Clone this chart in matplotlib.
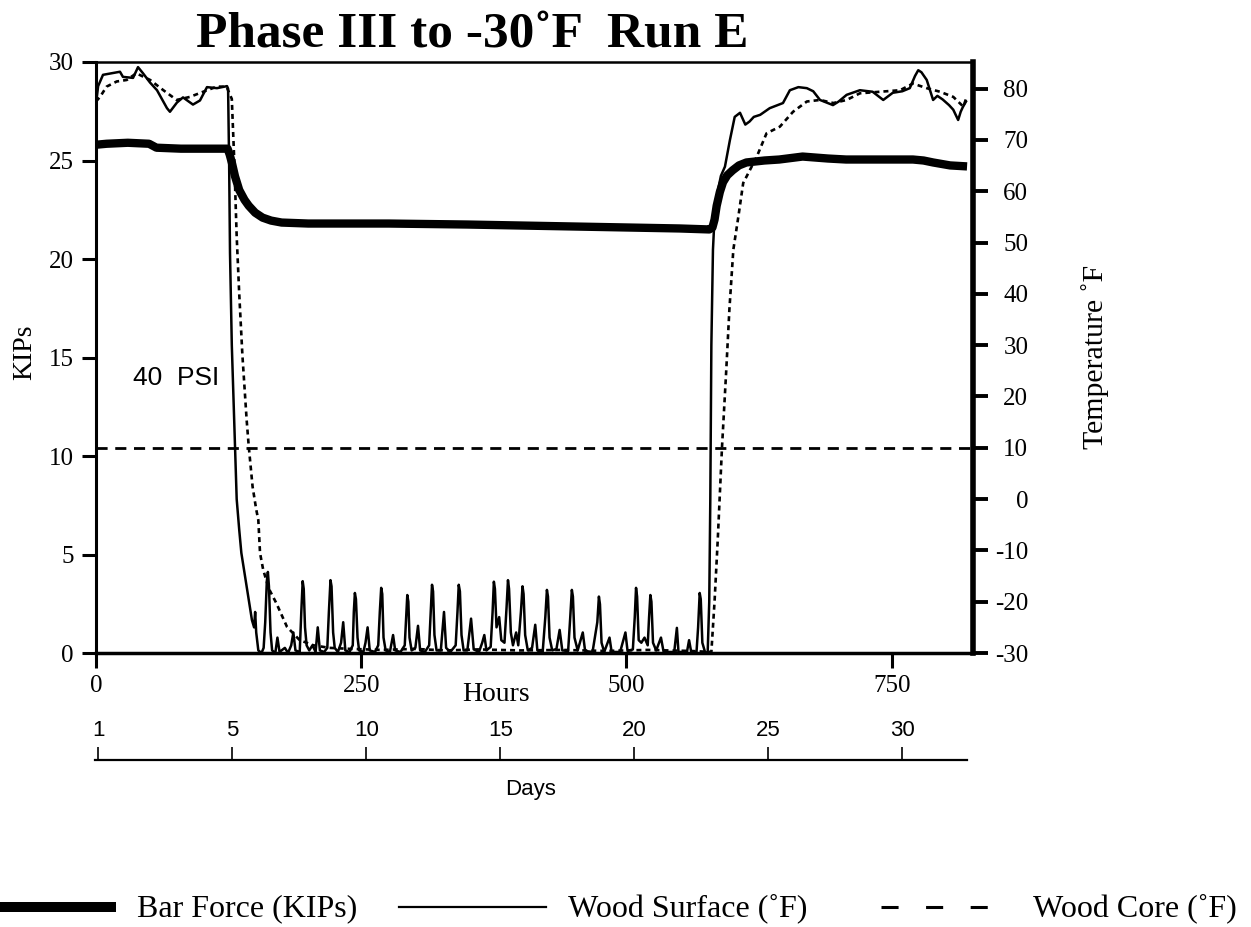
import matplotlib
matplotlib.use("Agg")
import matplotlib.pyplot as plt
from matplotlib.lines import Line2D

SERIF = ["Liberation Serif", "DejaVu Serif"]
SANS = ["Liberation Sans", "DejaVu Sans"]
plt.rcParams["font.family"] = SERIF
plt.rcParams["lines.scale_dashes"] = False

# ---------------- data ----------------
bar_hours = [0, 10, 30, 50, 57, 80, 124, 126, 128, 131, 135, 140, 144, 150, 157, 165, 175,
             200, 276, 350, 450, 500, 550, 578, 581, 583, 585, 588, 591, 595, 600, 606, 613,
             630, 644, 666, 690, 707, 770, 780, 789, 805, 821]
bar_kips = [25.8, 25.85, 25.9, 25.85, 25.65, 25.6, 25.6, 25.3, 24.9, 24.2, 23.5, 23.0, 22.7,
            22.35, 22.1, 21.95, 21.85, 21.8, 21.8, 21.75, 21.65, 21.6, 21.55, 21.5, 21.6, 22.0,
            22.7, 23.4, 23.9, 24.25, 24.5, 24.75, 24.9, 25.0, 25.05, 25.2, 25.1, 25.05, 25.05,
            25.0, 24.9, 24.75, 24.7]

surf_hours = [0, 2, 6.6, 22.6, 25.4, 34.9, 39.6, 44.3, 50.9, 57.5, 66.9, 69.7, 76.3, 82, 91.4,
              98, 104.6, 114, 123.5, 124.5, 125.5, 126.3, 128, 131, 132.6, 135, 137, 142, 145,
              147, 149, 150, 151, 153, 156, 158, 159.5, 161, 162, 163, 164.5, 166, 169, 171,
              173, 178, 181, 184, 186, 188, 192, 193.5, 194.8, 195.8, 197, 198.5, 201, 204,
              207, 209, 211, 215, 218, 219.5, 221, 222, 223.5, 225, 228, 231, 233, 235, 239,
              242, 243, 244, 245, 246.5, 248, 252, 254, 256, 258, 263, 266, 267.5, 268.8,
              269.8, 271, 273, 277, 280, 282, 287, 291, 292.3, 293.4, 294.4, 295.5, 297.5,
              301, 303.5, 305.5, 310, 314, 315.5, 316.7, 317.7, 319, 321, 325, 328, 330, 334,
              339, 340.7, 341.9, 343, 344.5, 346.5, 350, 353.5, 356, 361, 364, 366, 368, 372,
              373.8, 375, 376, 377.5, 380, 382, 385, 387, 388.3, 389.3, 391, 393, 396, 398,
              400.5, 402, 403, 404.5, 407, 411, 414, 416, 421, 423.5, 425, 426, 427.5, 430,
              434, 437, 439.5, 445, 447, 448.5, 449.5, 451, 454, 458.8, 461, 468, 472.5, 474,
              475, 476.5, 479, 484, 486, 494, 497, 499, 501, 506, 507.8, 509, 510, 511.5, 514,
              517, 520, 521.3, 522.5, 523.5, 525, 528, 532.5, 535, 545, 546.5, 547.5, 549,
              557, 559, 561, 566, 567.5, 569, 570, 571.5, 574, 576.5, 578, 579, 580, 581.5,
              583, 586, 589, 592.8, 597.5, 602, 607, 612, 616, 620, 626, 635, 647.5, 654, 662,
              670, 676, 682.4, 694.6, 700, 707.5, 720, 732, 742, 751, 760, 767, 772, 775, 778,
              783, 789, 793, 798, 804, 808, 812.6, 815, 817, 820]
surf_temp = [77, 80.5, 82.7, 83.3, 82.3, 82.1, 84.2, 83.0, 81.2, 79.7, 76.2, 75.5, 77.3, 78.3,
             76.9, 77.7, 80.3, 80.1, 80.5, 80, 65, 48, 30, 10, 0, -6, -10.5, -17, -21, -23.6,
             -25, -22, -26, -29.5, -30, -29, -24, -16, -14.2, -17, -26, -29.5, -30, -27,
             -29.8, -29, -30, -28.5, -26, -29.5, -29.8, -22, -16, -17.5, -25, -28.5, -29.5,
             -28.5, -29.8, -25, -29.5, -29.8, -29, -22, -15.8, -17, -26, -29, -29.8, -28, -24,
             -29.5, -29.8, -28.5, -22, -18.3, -19.5, -27, -29.5, -29.8, -28, -25, -29.5,
             -29.8, -28.5, -22, -17.3, -18.5, -27, -29.5, -29.8, -26.5, -29.5, -29.8, -28.5,
             -23, -18.7, -20, -27, -29.5, -29, -24.7, -29.5, -29.8, -28.5, -22, -16.7, -18,
             -26.5, -29.5, -29.5, -22, -29, -29.8, -28.5, -22, -16.7, -18, -26.5, -29.5,
             -29.5, -23.3, -29.3, -29.8, -28, -26.5, -29.5, -28.8, -22, -16.1, -17.5, -25,
             -23, -27.5, -28, -21, -15.8, -17.5, -26, -28.5, -26, -28.5, -22, -17, -18.5,
             -26.5, -29.5, -29, -24.5, -29.5, -29.8, -23, -17.7, -19, -27, -29.5, -29.2,
             -25.5, -29.5, -29.6, -23, -17.7, -19, -27, -29.5, -26, -29.6, -29.8, -24, -19,
             -20.5, -28, -29.8, -27, -29.8, -29.8, -27.5, -26, -29.6, -29.3, -23, -17.3, -19,
             -27.5, -28, -27, -28.5, -23, -18.7, -20, -28, -29.5, -27, -29.8, -29.8, -27,
             -25.1, -29.8, -29.8, -27.5, -29.8, -29.8, -25, -18.3, -19.5, -28, -29.8, -30,
             -20, 0, 30, 48.6, 55, 60, 63, 64.8, 70, 74.5, 75.3, 73, 73.6, 74.5, 74.9, 76.2,
             77.2, 79.7, 80.3, 80.1, 79.5, 77.8, 76.8, 77.5, 78.8, 79.7, 79.4, 77.8, 79.2,
             79.5, 80.1, 82.5, 83.6, 83.2, 81.7, 77.8, 78.6, 77.9, 76.8, 75.9, 73.9, 75.5,
             76.4, 77.5]

core_hours = [0, 3.8, 10, 19.5, 29, 38, 51, 63.5, 76, 88.6, 101, 113.8, 123, 128, 130.5, 131.5,
              132.6, 135, 138, 142, 144, 147.6, 151, 153, 154.6, 157.6, 163, 170, 180, 192,
              205, 220, 240, 270, 300, 330, 360, 400, 440, 480, 520, 560, 580, 583, 586, 590,
              594, 597, 600.7, 605.4, 610, 622.7, 632, 644.6, 657, 670, 682.4, 695, 707.5,
              720, 739, 757.8, 770, 783, 795.5, 808, 817.5, 820]
core_temp = [77.5, 78.4, 80.4, 81.4, 81.7, 83, 81.7, 79.7, 77.8, 78.4, 79.4, 80.4, 80.4, 78,
             65, 58.3, 51.2, 40, 28, 15.4, 10.2, 2.4, -2, -4.1, -10.5, -13.8, -17.5, -20.3,
             -24.9, -27.5, -28.5, -29, -29.2, -29.4, -29.2, -29.5, -29.3, -29.5, -29.4, -29.6,
             -29.4, -29.6, -29.8, -20, -8, 10, 25, 37, 48.6, 55, 61.6, 66.7, 71.3, 72.6, 75.5,
             77.5, 77.8, 77.2, 77.8, 79.1, 79.4, 79.7, 81, 80.1, 79.4, 78.4, 76.5, 78]

ref_temp = 10            # dashed horizontal reference line (deg F)

kips_ticks = [0, 5, 10, 15, 20, 25, 30]
temp_ticks = [-30, -20, -10, 0, 10, 20, 30, 40, 50, 60, 70, 80]
hour_ticks = [0, 250, 500, 750]
day_tick_pos = [0, 5, 10, 15, 20, 25, 30]
day_tick_labels = ["1", "5", "10", "15", "20", "25", "30"]

title = "Phase III to -30˚F  Run E"
legend_labels = ["Bar Force (KIPs)", "Wood Surface (˚F)", "Wood Core (˚F)"]

# ---------------- figure ----------------
W, H = 1251, 927
fig = plt.figure(figsize=(W / 100, H / 100), dpi=100)

def fx(px):
    return px / W

def fy(py):
    return 1 - py / H

L, R, T, B = 96, 973, 62, 653
ax = fig.add_axes([fx(L), fy(B), fx(R - L), (B - T) / H])
ax2 = ax.twinx()

ax.set_xlim(0, 826.6)
ax.set_ylim(0, 30)
ax2.set_ylim(-30, 85.2)

ax.plot(bar_hours, bar_kips, color="black", lw=6.0, solid_capstyle="butt", zorder=3)
ax2.plot(surf_hours, surf_temp, color="black", lw=1.8, zorder=2)
ax2.plot(core_hours, core_temp, color="black", lw=1.9, dashes=(3.6, 2.9), zorder=2)
ax2.axhline(ref_temp, color="black", lw=2.0, dashes=(8.0, 5.5), zorder=1)

# spines
ax.spines["left"].set_linewidth(2.2)
ax.spines["bottom"].set_linewidth(2.5)
ax.spines["top"].set_linewidth(1.8)
ax.spines["right"].set_visible(False)
ax2.spines["right"].set_linewidth(4.0)
for s in ["left", "bottom", "top"]:
    ax2.spines[s].set_visible(False)

ax.set_yticks(kips_ticks)
ax.set_yticklabels([str(v) for v in kips_ticks], fontsize=18)
ax.tick_params(axis="y", direction="out", length=10, width=2.2, pad=6)
ax.set_xticks(hour_ticks)
ax.set_xticklabels([str(v) for v in hour_ticks], fontsize=18)
ax.tick_params(axis="x", direction="out", length=10.8, width=2.2, pad=5)

ax2.set_yticks(temp_ticks)
ax2.set_yticklabels([str(v) for v in temp_ticks], fontsize=18, ha="right")
ax2.tick_params(axis="y", direction="out", length=10.8, width=2.8, pad=29)

# axis titles
fig.text(fx(25), fy(352), "KIPs", rotation=90, fontsize=20, ha="center", va="center")
fig.text(fx(1095), fy(357), "Temperature ˚F", rotation=90, fontsize=21.5,
         ha="center", va="center")
fig.text(fx(496), fy(701), "Hours", fontsize=20, ha="center", va="baseline")
fig.text(fx(133), fy(378), "40  PSI", fontsize=19, ha="left", va="center", family=SANS)

# title
fig.text(fx(472.5), fy(46.7), title, fontsize=37, fontweight="bold",
         ha="center", va="baseline")

# days axis
axd = fig.add_axes([fx(95), fy(760), fx(967.3 - 95), 13 / H])
axd.set_xlim(-0.123, 32.43)
axd.set_ylim(0, 1)
axd.patch.set_visible(False)
for s in ["left", "right", "top"]:
    axd.spines[s].set_visible(False)
axd.spines["bottom"].set_linewidth(1.6)
axd.set_yticks([])
axd.set_xticks(day_tick_pos)
axd.set_xticklabels(day_tick_labels, fontsize=16, family=SANS)
axd.tick_params(axis="x", direction="in", length=9.5, width=1.2, bottom=True, top=False,
                labelbottom=False, labeltop=True, pad=4)
fig.text(fx(531), fy(795), "Days", fontsize=16, ha="center", va="baseline", family=SANS)

# legend (drawn by hand)
ly = fy(907)
fig.add_artist(Line2D([fx(0), fx(116)], [ly, ly], color="black", lw=7.2,
                      solid_capstyle="butt"))
fig.text(fx(137), fy(916), legend_labels[0], fontsize=23, ha="left", va="baseline")
fig.add_artist(Line2D([fx(399), fx(546)], [ly, ly], color="black", lw=1.6))
fig.text(fx(568), fy(916), legend_labels[1], fontsize=23, ha="left", va="baseline")
fig.add_artist(Line2D([fx(881), fx(989)], [ly, ly], color="black", lw=2.2,
                      dashes=(12.3, 19.8)))
fig.text(fx(1033), fy(916), legend_labels[2], fontsize=23, ha="left", va="baseline")

fig.savefig("out.png", dpi=100)
